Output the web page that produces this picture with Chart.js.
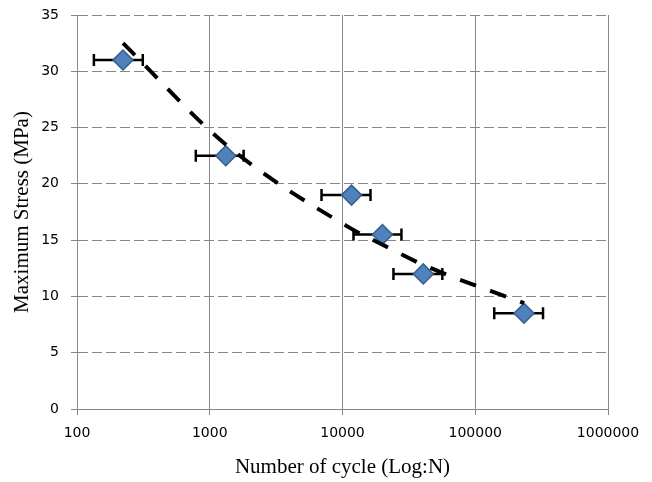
<!DOCTYPE html>
<html>
<head>
<meta charset="utf-8">
<script src="https://cdn.jsdelivr.net/npm/chart.js@4"></script>
<style>
  html, body { margin: 0; padding: 0; background: #fff; }
  #wrap { width: 652px; height: 482px; }
</style>
</head>
<body>
<div id="wrap"><canvas id="sn-curve"></canvas></div>
<script>
// values
var cycles = [222, 1320, 11700, 20000, 40600, 233000];
var stress = [31, 22.5, 19, 15.5, 12, 8.5];
var cyclesLow = [134, 785, 6950, 12100, 24200, 139000];
var cyclesHigh = [313, 1800, 16250, 27800, 56500, 324000];
var trendStress = [32.5, 23.5, 16.0, 14.6, 12.8, 9.4];
var xTicks = [100, 1000, 10000, 100000, 1000000];
var yTicks = [0, 5, 10, 15, 20, 25, 30, 35];

var gridGrey = '#878787';

// horizontal error bars, drawn under the markers
var errorBars = {
    id: 'errorBars',
    beforeDatasetsDraw: function(chart) {
        var ctx = chart.ctx;
        var x = chart.scales.x, y = chart.scales.y;
        ctx.save();
        ctx.strokeStyle = '#000';
        ctx.lineWidth = 2.5;
        for (var i = 0; i < cycles.length; i++) {
            var py = y.getPixelForValue(stress[i]);
            var x1 = x.getPixelForValue(cyclesLow[i]);
            var x2 = x.getPixelForValue(cyclesHigh[i]);
            ctx.beginPath();
            ctx.moveTo(x1, py); ctx.lineTo(x2, py);
            ctx.moveTo(x1, py - 6); ctx.lineTo(x1, py + 6);
            ctx.moveTo(x2, py - 6); ctx.lineTo(x2, py + 6);
            ctx.stroke();
        }
        ctx.restore();
    }
};

var ctx = document.getElementById('sn-curve').getContext('2d');
var chart = new Chart(ctx, {
    type: 'scatter',
    data: {
        datasets: [{
            label: 'Trend',
            type: 'line',
            data: cycles.map(function(c, i) { return {x: c, y: trendStress[i]}; }),
            borderColor: '#000',
            borderWidth: 4,
            borderDash: [17, 15],
            pointRadius: 0,
            fill: false,
            cubicInterpolationMode: 'monotone',
            order: 0
        }, {
            label: 'Maximum Stress',
            data: cycles.map(function(c, i) { return {x: c, y: stress[i]}; }),
            pointStyle: 'rectRot',
            pointRadius: 10,
            backgroundColor: '#4F81BD',
            borderColor: '#385D8A',
            borderWidth: 1.5,
            order: 1
        }]
    },
    options: {
        responsive: true,
        maintainAspectRatio: false,
        animation: false,
        layout: { padding: { top: 15, right: 44, left: 0, bottom: 0 } },
        plugins: { legend: { display: false }, tooltip: { enabled: false } },
        scales: {
            x: {
                type: 'logarithmic',
                min: 100,
                max: 1000000,
                afterBuildTicks: function(scale) {
                    scale.ticks = xTicks.map(function(v) { return {value: v}; });
                },
                afterFit: function(scale) { scale.height = 73; },
                ticks: {
                    autoSkip: false,
                    maxRotation: 0,
                    padding: 10,
                    color: '#000',
                    font: { family: 'DejaVu Sans', size: 14 },
                    callback: function(v) { return String(v); }
                },
                grid: { color: gridGrey, tickLength: 6, tickColor: gridGrey },
                border: { color: gridGrey },
                title: {
                    display: true,
                    text: 'Number of cycle (Log:N)',
                    color: '#000',
                    font: { family: 'Liberation Serif', size: 21 },
                    padding: { top: 4, bottom: 2 }
                }
            },
            y: {
                min: 0,
                max: 35,
                afterBuildTicks: function(scale) {
                    scale.ticks = yTicks.map(function(v) { return {value: v}; });
                },
                afterFit: function(scale) {
                    scale.width = 77;
                    scale.paddingTop = 0;
                    scale.paddingBottom = 0;
                },
                ticks: {
                    padding: 12,
                    color: '#000',
                    font: { family: 'DejaVu Sans', size: 14 }
                },
                grid: { color: gridGrey, tickLength: 6, tickColor: gridGrey },
                border: { color: gridGrey, dash: [10, 4] },
                title: {
                    display: true,
                    text: 'Maximum Stress (MPa)',
                    color: '#000',
                    font: { family: 'Liberation Serif', size: 21 },
                    padding: { top: 10, bottom: 0 }
                }
            }
        }
    },
    plugins: [errorBars]
});
</script>
</body>
</html>
